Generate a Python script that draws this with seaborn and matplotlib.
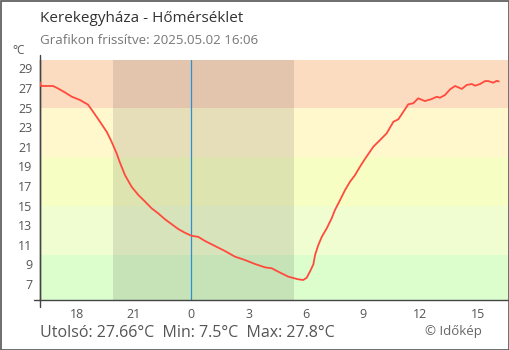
import seaborn as sns
import matplotlib.pyplot as plt
from matplotlib.patches import Rectangle

# Data: hours relative to midnight (negative = previous day), temperature in °C
hours = [-7.92, -7.87, -7.24, -7.03, -6.62, -6.25, -5.83, -5.41, -5.15, -4.78,
         -4.42, -4.17, -3.91, -3.74, -3.47, -3.12, -2.77, -2.42, -2.07, -1.73,
         -1.38, -1.03, -0.68, -0.33, 0.0, 0.37, 0.72, 1.24, 1.76, 2.29,
         2.81, 3.34, 3.86, 4.21, 4.55, 5.08, 5.60, 5.86, 6.04, 6.21,
         6.39, 6.48, 6.65, 6.83, 7.09, 7.35, 7.52, 7.79, 8.05, 8.31,
         8.57, 8.83, 9.09, 9.53, 9.88, 10.23, 10.58, 10.84, 11.10, 11.36,
         11.62, 11.88, 12.23, 12.59, 12.85, 13.02, 13.28, 13.55, 13.81, 14.16,
         14.42, 14.68, 14.86, 15.12, 15.38, 15.55, 15.81, 15.99, 16.10]
temps = [27.57, 27.2, 27.2, 27.0, 26.55, 26.1, 25.77, 25.3, 24.6, 23.55,
         22.5, 21.5, 20.33, 19.4, 18.1, 16.9, 16.07, 15.4, 14.7, 14.2,
         13.6, 13.1, 12.6, 12.22, 11.92, 11.8, 11.38, 10.87, 10.36, 9.78,
         9.44, 9.03, 8.69, 8.6, 8.25, 7.74, 7.47, 7.4, 7.63, 8.25,
         9.0, 9.95, 10.97, 11.8, 12.67, 13.7, 14.54, 15.56, 16.58, 17.43,
         18.1, 18.96, 19.75, 21.0, 21.68, 22.37, 23.55, 23.8, 24.57, 25.33,
         25.43, 25.94, 25.66, 25.87, 26.1, 26.0, 26.28, 26.86, 27.2, 26.9,
         27.3, 27.4, 27.23, 27.4, 27.7, 27.7, 27.53, 27.73, 27.66]

tick_pos = [-6, -3, 0, 3, 6, 9, 12, 15]
tick_labels = ['18', '21', '0', '3', '6', '9', '12', '15']
y_ticks = [7, 9, 11, 13, 15, 17, 19, 21, 23, 25, 27, 29]

band_edges = [0, 10, 15, 20, 25, 35]
band_colors = ['#dcfdcc', '#f0fdd0', '#f7fec4', '#fff8cd', '#fcdcc0']
sunset, sunrise = -4.1, 5.39

sns.set_style("white")
plt.rcParams['font.family'] = ['Open Sans', 'DejaVu Sans']

fig = plt.figure(figsize=(5.1, 3.5), dpi=100)
ax = fig.add_axes([40 / 510, 50 / 350, 468 / 510, 240 / 350])

for lo, hi, c in zip(band_edges[:-1], band_edges[1:], band_colors):
    ax.axhspan(lo, hi, color=c, lw=0, zorder=0)
ax.axvspan(sunset, sunrise, color='black', alpha=0.1, lw=0, zorder=1)
ax.axvline(0, color='#2e8fd6', lw=0.9, zorder=2)

sns.lineplot(x=hours, y=temps, ax=ax, color='#ff4a3d', lw=1.3, zorder=3)

ax.set_xlim(-7.92, 16.58)
ax.set_ylim(5.36, 29.85)
ax.set_xticks(tick_pos)
ax.set_xticklabels(tick_labels)
ax.set_yticks(y_ticks)

for s in ['top', 'right']:
    ax.spines[s].set_visible(False)
for s in ['left', 'bottom']:
    ax.spines[s].set_color('#444444')
    ax.spines[s].set_linewidth(1.0)
ax.tick_params(direction='inout', length=9, width=1, color='#444444',
               labelcolor='#555555', labelsize=9)
ax.tick_params(axis='x', pad=1)
ax.tick_params(axis='y', pad=1)
ax.get_xticklines()[4].set_color('#2e8fd6')
ax.get_xticklines()[5].set_color('#2e8fd6')

# axis lines stick out past the plot area
ax.plot([-6 / 468, 0], [0, 0], transform=ax.transAxes, color='#444444', lw=1, clip_on=False)
ax.plot([0, 0], [-7 / 240, 1 + 5 / 240], transform=ax.transAxes, color='#444444', lw=1, clip_on=False)

fig.text(40 / 510, 1 - 19 / 350, 'Kerekegyháza - Hőmérséklet', fontsize=11, color='#333333', va='center')
fig.text(40 / 510, 1 - 41 / 350, 'Grafikon frissítve: 2025.05.02 16:06', fontsize=9.6, color='#777777', va='center')
fig.text(12 / 510, 1 - 51 / 350, '°C', fontsize=8.5, color='#555555', va='center')
fig.text(40 / 510, 1 - 333 / 350, 'Utolsó: 27.66°C  Min: 7.5°C  Max: 27.8°C', fontsize=11.5, color='#555555', va='center')
fig.text(482 / 510, 1 - 331 / 350, '© Időkép', fontsize=9.5, color='#666666', va='center', ha='right')

fig.patches.append(Rectangle((0.5 / 510, 0.5 / 350), 508.5 / 510, 348.5 / 350, transform=fig.transFigure,
                             fill=False, edgecolor='#555555', lw=1.2))

fig.savefig('out.png', dpi=100)
